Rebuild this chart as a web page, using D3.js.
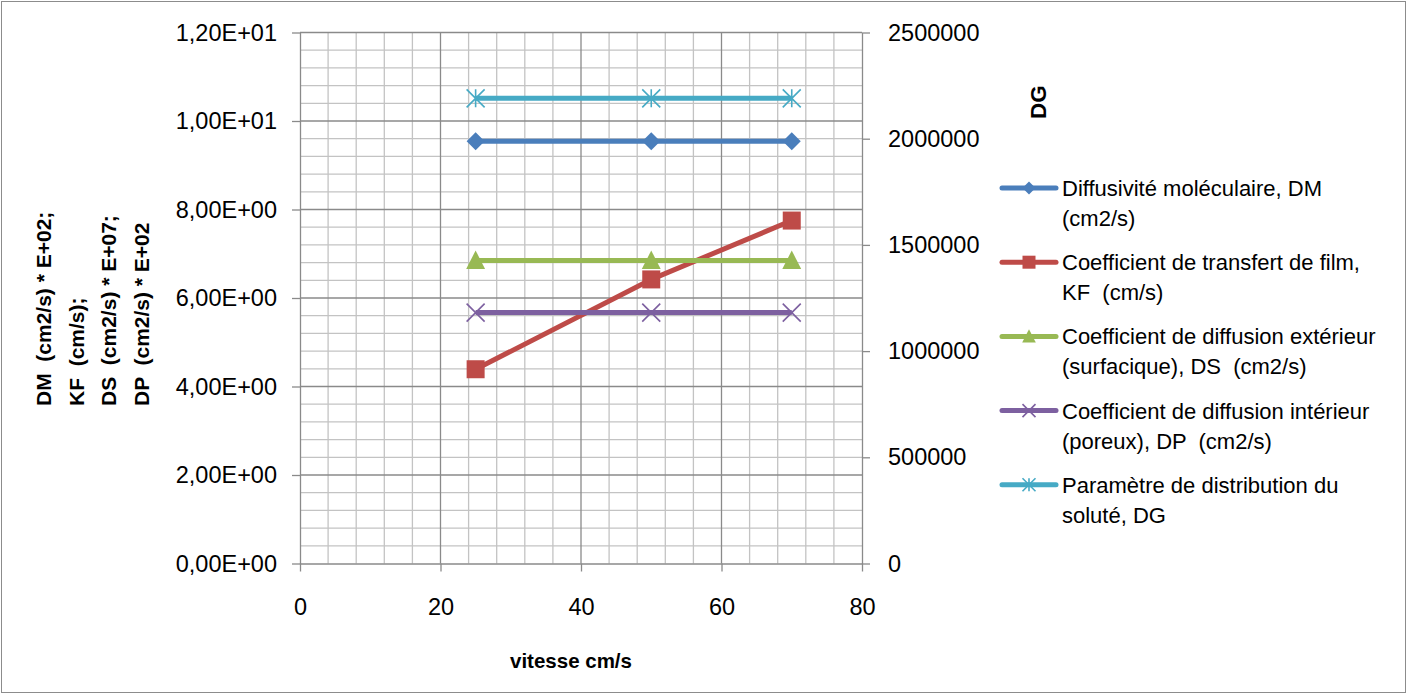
<!DOCTYPE html>
<html>
<head>
<meta charset="utf-8">
<script src="https://cdn.jsdelivr.net/npm/d3@7"></script>
<style>
  html, body { margin: 0; padding: 0; background: #fff; }
  svg { display: block; font-family: "Liberation Sans", Arial, sans-serif; }
  text { white-space: pre; }
</style>
</head>
<body>
<svg id="chart" width="1407" height="695"></svg>
<script>
// Vitesse (cm/s)
const vitesse = [25, 50, 70];

// Left-axis series (scaled values)
const dmValues = [9.54, 9.54, 9.54];   // DM (cm2/s) * E+02
const kfValues = [4.39, 6.42, 7.75];   // KF (cm/s)
const dsValues = [6.85, 6.85, 6.85];   // DS (cm2/s) * E+07
const dpValues = [5.67, 5.67, 5.67];   // DP (cm2/s) * E+02

// Right-axis series
const dgValues = [2190000, 2190000, 2190000]; // DG

// Axis ticks
const xTicks = [0, 20, 40, 60, 80];
const yLeftTicks = [0, 2, 4, 6, 8, 10, 12];
const yRightTicks = [0, 500000, 1000000, 1500000, 2000000, 2500000];

const seriesNames = [
  ["Diffusivité moléculaire, DM", "(cm2/s)"],
  ["Coefficient de transfert de film,", "KF  (cm/s)"],
  ["Coefficient de diffusion extérieur", "(surfacique), DS  (cm2/s)"],
  ["Coefficient de diffusion intérieur", "(poreux), DP  (cm2/s)"],
  ["Paramètre de distribution du", "soluté, DG"]
];
const seriesColors = ["#4a7ebb", "#be4b48", "#98b954", "#7d60a0", "#46aac5"];
const seriesMarkers = ["diamond", "square", "triangle", "x", "asterisk"];

const leftTitleLines = [
  "DM  (cm2/s) * E+02;",
  "KF  (cm/s);",
  "DS  (cm2/s) * E+07;",
  "DP  (cm2/s) * E+02"
];

const svg = d3.select("#chart");
const W = 1407, H = 695;
const plot = { left: 300, right: 862, top: 32.5, bottom: 563.5 };

// outer frame
svg.append("rect")
  .attr("x", 1.5).attr("y", 1.5)
  .attr("width", W - 3).attr("height", H - 4)
  .attr("fill", "#fff").attr("stroke", "#8c8c8c").attr("stroke-width", 1);

const x = d3.scaleLinear().domain([0, 80]).range([plot.left, plot.right]);
const yL = d3.scaleLinear().domain([0, 12]).range([plot.bottom, plot.top]);
const yR = d3.scaleLinear().domain([0, 2500000]).range([plot.bottom, plot.top]);

// grid
const grid = svg.append("g");
const xMinor = d3.range(0, 81, 4).filter(v => v % 20 !== 0);
const yMinor = d3.range(0, 31).map(i => i * 0.4).filter((v, i) => i % 5 !== 0);
grid.selectAll(".xm").data(xMinor).join("line")
  .attr("x1", d => x(d)).attr("x2", d => x(d))
  .attr("y1", plot.top).attr("y2", plot.bottom)
  .attr("stroke", "#c3c3c3").attr("stroke-width", 1.3);
grid.selectAll(".ym").data(yMinor).join("line")
  .attr("x1", plot.left).attr("x2", plot.right)
  .attr("y1", d => yL(d)).attr("y2", d => yL(d))
  .attr("stroke", "#c3c3c3").attr("stroke-width", 1.3);
grid.selectAll(".xM").data(xTicks.slice(1, -1)).join("line")
  .attr("x1", d => x(d)).attr("x2", d => x(d))
  .attr("y1", plot.top).attr("y2", plot.bottom)
  .attr("stroke", "#8a8a8a").attr("stroke-width", 1.3);
grid.selectAll(".yM").data(yLeftTicks.slice(1)).join("line")
  .attr("x1", plot.left).attr("x2", plot.right)
  .attr("y1", d => yL(d)).attr("y2", d => yL(d))
  .attr("stroke", "#8a8a8a").attr("stroke-width", 1.3);

// label format 1,20E+01
function sciFmt(v) {
  const s = v.toExponential(2);
  const [m, e] = s.split("e");
  const sign = e[0] === "-" ? "-" : "+";
  const digits = e.replace(/[+-]/, "").padStart(2, "0");
  return m.replace(".", ",") + "E" + sign + digits;
}

function styleAxis(g) {
  g.select(".domain").attr("stroke", "#8a8a8a").attr("stroke-width", 1.3);
  g.selectAll(".tick line").attr("stroke", "#8a8a8a").attr("stroke-width", 1.3);
  g.selectAll("text").attr("fill", "#000")
    .style("font-family", "'Liberation Sans', Arial, sans-serif")
    .style("font-size", "23.5px");
}

svg.append("g")
  .attr("transform", `translate(${plot.left},0)`)
  .call(d3.axisLeft(yL).tickValues(yLeftTicks).tickFormat(sciFmt).tickSize(8).tickPadding(15).tickSizeOuter(0))
  .call(styleAxis);

svg.append("g")
  .attr("transform", `translate(0,${plot.bottom})`)
  .call(d3.axisBottom(x).tickValues(xTicks).tickFormat(d3.format("d")).tickSize(8).tickPadding(27).tickSizeOuter(0))
  .call(styleAxis);

svg.append("g")
  .attr("transform", `translate(${plot.right},0)`)
  .call(d3.axisRight(yR).tickValues(yRightTicks).tickFormat(d3.format("d")).tickSize(8).tickPadding(18).tickSizeOuter(0))
  .call(styleAxis);

// marker drawing
function drawMarker(g, type, color, s) {
  const h = s / 2;
  if (type === "diamond") {
    g.append("path").attr("d", `M0,${-h}L${h},0L0,${h}L${-h},0Z`).attr("fill", color);
  } else if (type === "square") {
    g.append("rect").attr("x", -h).attr("y", -h).attr("width", s).attr("height", s).attr("fill", color);
  } else if (type === "triangle") {
    g.append("path").attr("d", `M0,${-h * 1.1}L${h * 1.05},${h * 0.95}L${-h * 1.05},${h * 0.95}Z`).attr("fill", color);
  } else if (type === "x") {
    g.append("path").attr("d", `M${-h},${-h}L${h},${h}M${-h},${h}L${h},${-h}`)
      .attr("stroke", color).attr("stroke-width", 1.6).attr("fill", "none");
  } else if (type === "asterisk") {
    g.append("path").attr("d", `M${-h},${-h}L${h},${h}M${-h},${h}L${h},${-h}M0,${-h}L0,${h}`)
      .attr("stroke", color).attr("stroke-width", 1.6).attr("fill", "none");
  }
}

const series = [
  { values: dmValues, y: yL },
  { values: kfValues, y: yL },
  { values: dsValues, y: yL },
  { values: dpValues, y: yL },
  { values: dgValues, y: yR }
];

const lines = svg.append("g");
series.forEach((s, i) => {
  const pts = vitesse.map((v, j) => [v, s.values[j]]);
  const line = d3.line().x(d => x(d[0])).y(d => s.y(d[1]));
  lines.append("path").datum(pts)
    .attr("d", line)
    .attr("fill", "none")
    .attr("stroke", seriesColors[i])
    .attr("stroke-width", 5)
    .attr("stroke-linejoin", "round");
});
series.forEach((s, i) => {
  vitesse.forEach((v, j) => {
    const g = lines.append("g").attr("transform", `translate(${x(v)},${s.y(s.values[j])})`);
    drawMarker(g, seriesMarkers[i], seriesColors[i], 18);
  });
});

// axis titles
svg.append("text")
  .attr("x", 571).attr("y", 668)
  .attr("text-anchor", "middle")
  .style("font-weight", "bold").style("font-size", "20.5px")
  .text("vitesse cm/s");

const leftTitle = svg.append("g");
leftTitleLines.forEach((t, i) => {
  leftTitle.append("text")
    .attr("transform", `translate(${51 + i * 32.5},406) rotate(-90)`)
    .attr("text-anchor", "start")
    .style("font-weight", "bold").style("font-size", "21px")
    .text(t);
});

svg.append("text")
  .attr("transform", `translate(1046,102) rotate(-90)`)
  .attr("text-anchor", "middle")
  .style("font-weight", "bold").style("font-size", "22.5px")
  .text("DG");

// legend
const legend = svg.append("g");
seriesNames.forEach((lines2, i) => {
  const cy = 188 + i * 74.2;
  const g = legend.append("g");
  g.append("line").attr("x1", 1002).attr("x2", 1056).attr("y1", cy).attr("y2", cy)
    .attr("stroke", seriesColors[i]).attr("stroke-width", 5).attr("stroke-linecap", "round");
  const m = g.append("g").attr("transform", `translate(1029,${cy})`);
  drawMarker(m, seriesMarkers[i], seriesColors[i], 13);
  lines2.forEach((t, k) => {
    g.append("text").attr("x", 1062).attr("y", cy + 8 + k * 30)
      .style("font-size", "22px").attr("fill", "#000").text(t);
  });
});
</script>
</body>
</html>
